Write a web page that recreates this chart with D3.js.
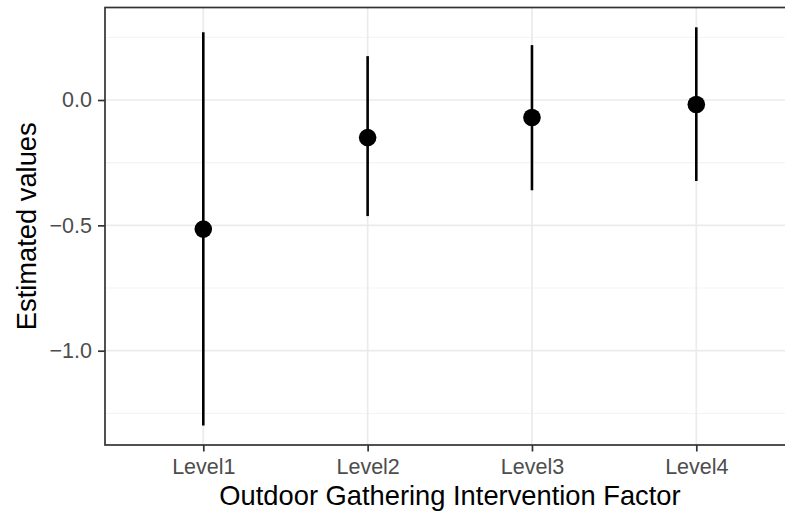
<!DOCTYPE html>
<html>
<head>
<meta charset="utf-8">
<script src="https://cdn.jsdelivr.net/npm/d3@7"></script>
<style>
  body { margin: 0; background: #fff; }
  svg { font-family: "Liberation Sans", Arial, sans-serif; }
</style>
</head>
<body>
<svg id="chart" width="785" height="512"></svg>
<script>
var levels = ["Level1", "Level2", "Level3", "Level4"];
var estimate = [-0.515, -0.15, -0.07, -0.018];
var lower = [-1.298, -0.463, -0.36, -0.323];
var upper = [0.27, 0.175, 0.219, 0.29];
var yTicks = [-1.0, -0.5, 0.0];
var yMinor = [-1.25, -0.75, -0.25, 0.25];

var svg = d3.select("#chart");

var panel = {left: 105, top: 7.5, right: 795, bottom: 445};

// discrete x, expanded 0.6 on each side (right edge falls off the image)
var x = d3.scalePoint().domain(levels)
  .range([203.3, 696.3]);
var y = d3.scaleLinear().domain([-1, 0]).range([350.7, 100]);

var g = svg.append("g");

g.selectAll(".minor").data(yMinor).enter().append("line")
  .attr("x1", panel.left).attr("x2", panel.right)
  .attr("y1", function(d){return y(d)}).attr("y2", function(d){return y(d)})
  .attr("stroke", "#f0f0f0").attr("stroke-width", 0.9);

g.selectAll(".major").data(yTicks).enter().append("line")
  .attr("x1", panel.left).attr("x2", panel.right)
  .attr("y1", function(d){return y(d)}).attr("y2", function(d){return y(d)})
  .attr("stroke", "#ebebeb").attr("stroke-width", 1.7);

g.selectAll(".vmajor").data(levels).enter().append("line")
  .attr("x1", function(d){return x(d)}).attr("x2", function(d){return x(d)})
  .attr("y1", panel.top).attr("y2", panel.bottom)
  .attr("stroke", "#ebebeb").attr("stroke-width", 1.7);

// error bars
g.selectAll(".bar").data(levels).enter().append("line")
  .attr("x1", function(d){return x(d)}).attr("x2", function(d){return x(d)})
  .attr("y1", function(d,i){return y(upper[i])})
  .attr("y2", function(d,i){return y(lower[i])})
  .attr("stroke", "black").attr("stroke-width", 2.6);

g.selectAll("circle").data(levels).enter().append("circle")
  .attr("cx", function(d){return x(d)})
  .attr("cy", function(d,i){return y(estimate[i])})
  .attr("r", 8.8)
  .attr("fill", "black");

// panel border
svg.append("rect")
  .attr("x", panel.left).attr("y", panel.top)
  .attr("width", panel.right - panel.left).attr("height", panel.bottom - panel.top)
  .attr("fill", "none").attr("stroke", "#333333").attr("stroke-width", 1.7);

// axes
var xAxis = svg.append("g")
  .attr("transform", "translate(0," + panel.bottom + ")")
  .call(d3.axisBottom(x).tickSize(6.5).tickPadding(7.5));
var yAxis = svg.append("g")
  .attr("transform", "translate(" + panel.left + ",0)")
  .call(d3.axisLeft(y).tickValues(yTicks).tickSize(7).tickPadding(6)
    .tickFormat(function(d){return d3.format(".1f")(d).replace("-", "\u2212")}));

[xAxis, yAxis].forEach(function(a){
  a.select(".domain").remove();
  a.selectAll("line").attr("stroke", "#333333").attr("stroke-width", 1.7);
  a.selectAll("text").attr("fill", "#4d4d4d").style("font-size", "21.5px")
    .style("font-family", "Liberation Sans, Arial, sans-serif");
});

svg.append("text")
  .attr("x", (panel.left + panel.right) / 2).attr("y", 505)
  .attr("text-anchor", "middle").attr("fill", "black")
  .style("font-size", "27.3px")
  .text("Outdoor Gathering Intervention Factor");

svg.append("text")
  .attr("transform", "translate(35.5," + (panel.top + panel.bottom) / 2 + ") rotate(-90)")
  .attr("text-anchor", "middle").attr("fill", "black")
  .style("font-size", "27.3px")
  .text("Estimated values");
</script>
</body>
</html>
